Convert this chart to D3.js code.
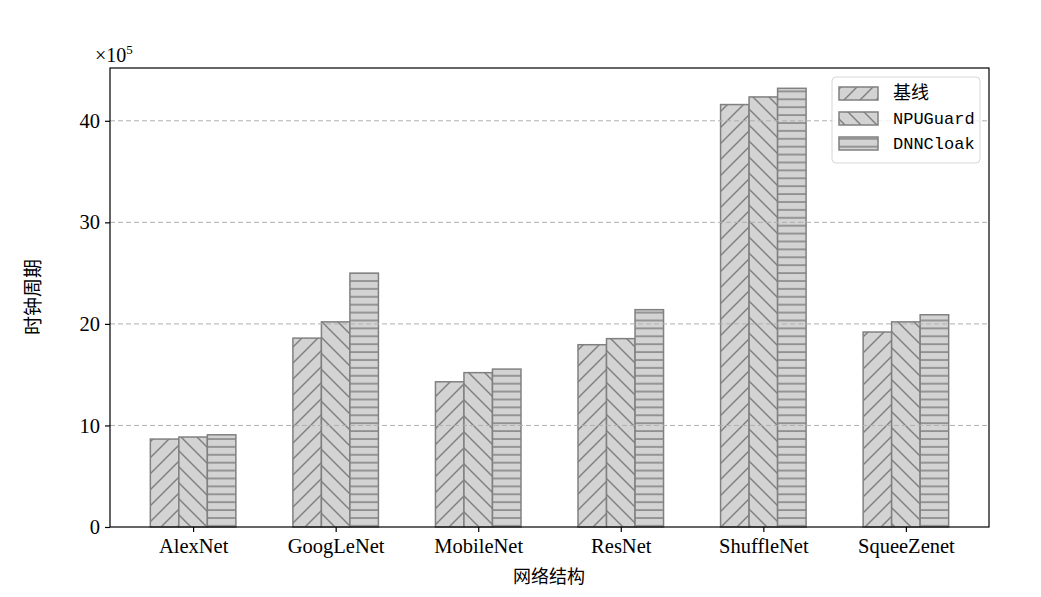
<!DOCTYPE html>
<html><head><meta charset="utf-8">
<script src="https://cdn.jsdelivr.net/npm/d3@7"></script>
<style>body{margin:0;background:#fff}</style>
</head><body>
<svg id="c" width="1041" height="597"></svg>
<script>
const categories = ["AlexNet","GoogLeNet","MobileNet","ResNet","ShuffleNet","SqueeZenet"];
const seriesNames = ["基线","NPUGuard","DNNCloak"];
const baseline = [8.66, 18.6, 14.3, 17.95, 41.6, 19.2];
const npuguard = [8.86, 20.2, 15.2, 18.55, 42.35, 20.2];
const dnncloak = [9.08, 25.0, 15.55, 21.4, 43.2, 20.9];
const yTicks = [0, 10, 20, 30, 40];
const series = [baseline, npuguard, dnncloak];

const svg = d3.select("#c");
const L = 110, R = 989, T = 68, B = 527;
const x = d3.scaleLinear().domain([-0.583, 5.583]).range([L, R]);
const y = d3.scaleLinear().domain([0, 45.2]).range([B, T]);
const edge = "#808080", fill = "#d3d3d3";

const defs = svg.append("defs");
function diag(id, dir) {
  const s = 16;
  const p = defs.append("pattern").attr("id", id).attr("patternUnits", "userSpaceOnUse")
    .attr("width", s).attr("height", s);
  p.append("rect").attr("width", s).attr("height", s).attr("fill", fill);
  const g = p.append("g").attr("stroke", edge).attr("stroke-width", 1.5);
  if (dir > 0) {
    g.append("line").attr("x1", -2).attr("y1", s + 2).attr("x2", s + 2).attr("y2", -2);
    g.append("line").attr("x1", -2).attr("y1", 2).attr("x2", 2).attr("y2", -2);
    g.append("line").attr("x1", s - 2).attr("y1", s + 2).attr("x2", s + 2).attr("y2", s - 2);
  } else {
    g.append("line").attr("x1", -2).attr("y1", -2).attr("x2", s + 2).attr("y2", s + 2);
    g.append("line").attr("x1", s - 2).attr("y1", -2).attr("x2", s + 2).attr("y2", 2);
    g.append("line").attr("x1", -2).attr("y1", s - 2).attr("x2", 2).attr("y2", s + 2);
  }
}
diag("h0", 1);
diag("h1", -1);
{
  const p = defs.append("pattern").attr("id", "h2").attr("patternUnits", "userSpaceOnUse")
    .attr("width", 8).attr("height", 7.9).attr("y", 0.5);
  p.append("rect").attr("width", 8).attr("height", 7.9).attr("fill", fill);
  p.append("line").attr("x1", 0).attr("x2", 8).attr("y1", 4).attr("y2", 4)
    .attr("stroke", edge).attr("stroke-width", 1.5);
}

// bars
const bw = 0.2;
series.forEach((vals, si) => {
  svg.append("g").selectAll("rect").data(vals).join("rect")
    .attr("x", (d, i) => x(i + (si - 1) * bw - bw / 2))
    .attr("width", (d, i) => x(bw) - x(0))
    .attr("y", d => y(d))
    .attr("height", d => y(0) - y(d))
    .attr("fill", `url(#h${si})`)
    .attr("stroke", edge).attr("stroke-width", 1.5);
});

// grid
svg.append("g").selectAll("line").data(yTicks.filter(t => t > 0)).join("line")
  .attr("x1", L).attr("x2", R).attr("y1", d => y(d)).attr("y2", d => y(d))
  .attr("stroke", "#b0b0b0").attr("stroke-width", 1).attr("stroke-dasharray", "5,3");

// frame
svg.append("rect").attr("x", L).attr("y", T).attr("width", R - L).attr("height", B - T)
  .attr("fill", "none").attr("stroke", "#000").attr("stroke-width", 1.2);

// axes
const serif = "'Liberation Serif','Times New Roman',serif";
const yAxis = svg.append("g").attr("transform", `translate(${L},0)`)
  .call(d3.axisLeft(y).tickValues(yTicks).tickSize(5).tickPadding(5).tickFormat(d3.format("d")));
const xAxis = svg.append("g").attr("transform", `translate(0,${B})`)
  .call(d3.axisBottom(x).tickValues(d3.range(categories.length)).tickSize(5).tickPadding(6)
    .tickFormat(i => categories[i]));
[xAxis, yAxis].forEach(a => {
  a.select(".domain").remove();
  a.selectAll("line").attr("stroke", "#000").attr("stroke-width", 1.2);
  a.selectAll("text").attr("font-family", serif).attr("font-size", 20.5).attr("fill", "#000");
});

// multiplier
const mt = svg.append("text").attr("x", 95).attr("y", 62).attr("font-family", serif)
  .attr("font-size", 20).attr("fill", "#000");
mt.append("tspan").text("×10");
mt.append("tspan").attr("font-size", 13).attr("dy", -8).text("5");

const cjk = "'Noto Sans CJK SC',sans-serif";
svg.append("text").attr("x", 549).attr("y", 583).attr("text-anchor", "middle")
  .attr("font-family", cjk).attr("font-size", 18).attr("fill", "#000").text("网络结构");
svg.append("text").attr("transform", "translate(40,297) rotate(-90)").attr("text-anchor", "middle")
  .attr("font-family", cjk).attr("font-size", 19).attr("fill", "#000").text("时钟周期");

// legend
const lg = svg.append("g");
lg.append("rect").attr("x", 832).attr("y", 77).attr("width", 148).attr("height", 86).attr("rx", 4)
  .attr("fill", "#fff").attr("fill-opacity", 0.8).attr("stroke", "#d6d6d6").attr("stroke-width", 1);
seriesNames.forEach((n, i) => {
  const yy = 93 + i * 25;
  lg.append("rect").attr("x", 839).attr("y", yy - 6).attr("width", 39).attr("height", 13)
    .attr("fill", `url(#h${i})`).attr("stroke", edge).attr("stroke-width", 1.5);
  lg.append("text").attr("x", 893).attr("y", yy + 6)
    .attr("font-family", i === 0 ? cjk : "'Liberation Mono',monospace")
    .attr("font-size", i === 0 ? 18 : 17).attr("fill", "#000").text(n);
});
</script>
</body></html>
